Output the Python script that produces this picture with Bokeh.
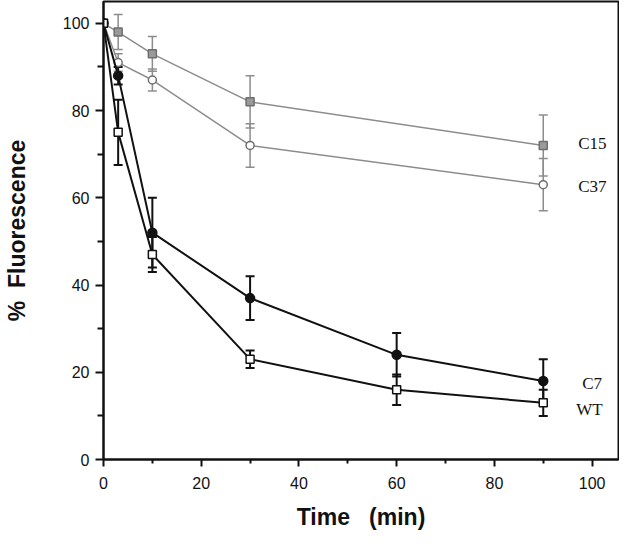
from bokeh.plotting import figure
from bokeh.models import ColumnDataSource, Whisker, TeeHead, Range1d, FixedTicker
from bokeh.core.properties import value
from bokeh.embed import file_html
from bokeh.resources import INLINE

# ---- data ----
time_gray = [0, 3, 10, 30, 90]
time_black = [0, 3, 10, 30, 60, 90]

c15 = [100, 98, 93, 82, 72]
c15_err = [0, 4, 4, 6, 7]
c37 = [100, 91, 87, 72, 63]
c37_err = [0, 2, 2.5, 5, 6]
c7 = [100, 88, 52, 37, 24, 18]
c7_err = [0, 2, 8, 5, 5, 5]
wt = [100, 75, 47, 23, 16, 13]
wt_err = [0, 7.5, 4, 2, 3.5, 3]

series_names = ["C15", "C37", "C7", "WT"]
x_ticks = [0, 20, 40, 60, 80, 100]
y_ticks = [0, 20, 40, 60, 80, 100]

GRAY = "#8c8c8c"
GRAY_DARK = "#6e6e6e"
BLACK = "#111111"
NB = "\u00a0"

p = figure(width=619, height=535, output_backend="svg", toolbar_location=None,
           x_range=Range1d(0, 105.4), y_range=Range1d(0, 105),
           min_border_left=90, min_border_right=1, min_border_top=1,
           min_border_bottom=76)
p.grid.visible = False
p.outline_line_color = BLACK
p.outline_line_width = 2
p.background_fill_color = "white"
p.border_fill_color = "white"

for ax, ticks in ((p.xaxis[0], x_ticks), (p.yaxis[0], y_ticks)):
    minors = [(a + b) / 2 for a, b in zip(ticks[:-1], ticks[1:])]
    ax.ticker = FixedTicker(ticks=ticks, minor_ticks=minors)
    ax.axis_line_width = 2
    ax.axis_line_color = BLACK
    ax.major_tick_line_width = 2
    ax.minor_tick_line_width = 2
    ax.major_tick_line_color = BLACK
    ax.minor_tick_line_color = BLACK
    ax.major_tick_in = 0
    ax.minor_tick_in = 0
    ax.major_label_text_font = "Liberation Sans"
    ax.major_label_text_font_size = "16px"
    ax.major_label_text_color = BLACK
    ax.axis_label_text_font = "Liberation Sans"
    ax.axis_label_text_font_style = "bold"
    ax.axis_label_text_font_size = "23px"
    ax.axis_label_text_color = BLACK

p.xaxis.major_tick_out = 7
p.xaxis.minor_tick_out = 4
p.xaxis.major_label_standoff = 10
p.xaxis.axis_label = "Time" + NB * 3 + "(min)"
p.xaxis.axis_label_standoff = 12

p.yaxis.major_tick_out = 8
p.yaxis.minor_tick_out = 6
p.yaxis.major_label_standoff = 6
p.yaxis.axis_label = "%" + NB * 2 + "Fluorescence"
p.yaxis.axis_label_standoff = 30


def add_series(t, v, e, line_color, line_width, marker, fill, edge, size):
    src = ColumnDataSource(dict(x=t, y=v))
    p.line("x", "y", source=src, line_color=line_color, line_width=line_width)
    et = [ti for ti, ei in zip(t, e) if ei > 0]
    up = [vi + ei for vi, ei in zip(v, e) if ei > 0]
    lo = [vi - ei for vi, ei in zip(v, e) if ei > 0]
    esrc = ColumnDataSource(dict(x=et, upper=up, lower=lo))
    w = Whisker(base="x", upper="upper", lower="lower", source=esrc,
                line_color=line_color, line_width=line_width,
                upper_head=TeeHead(size=9, line_color=line_color, line_width=line_width),
                lower_head=TeeHead(size=9, line_color=line_color, line_width=line_width))
    p.add_layout(w)
    p.scatter("x", "y", source=src, marker=marker, size=size,
              fill_color=fill, line_color=edge, line_width=1.5)


add_series(time_gray, c15, c15_err, GRAY, 1.5, "square", "#9a9a9a", GRAY_DARK, 8)
add_series(time_gray, c37, c37_err, GRAY, 1.5, "circle", "white", GRAY_DARK, 8)
add_series(time_black, c7, c7_err, BLACK, 2, "circle", BLACK, BLACK, 9)
add_series(time_black, wt, wt_err, BLACK, 2, "square", "white", BLACK, 8)

lab_src = ColumnDataSource(dict(
    x=[time_gray[-1], time_gray[-1], time_black[-1], time_black[-1]],
    y=[c15[-1], c37[-1], c7[-1], wt[-1]],
    text=series_names,
    dx=[35, 35, 39, 33],
    dy=[-2, 2, 3, 7],
))
p.text("x", "y", text="text", source=lab_src, x_offset="dx", y_offset="dy",
       text_font=value("Liberation Serif"), text_font_size="17px",
       text_align="left", text_baseline="middle", text_color=BLACK)

open("out.html", "w").write(file_html(p, INLINE))
